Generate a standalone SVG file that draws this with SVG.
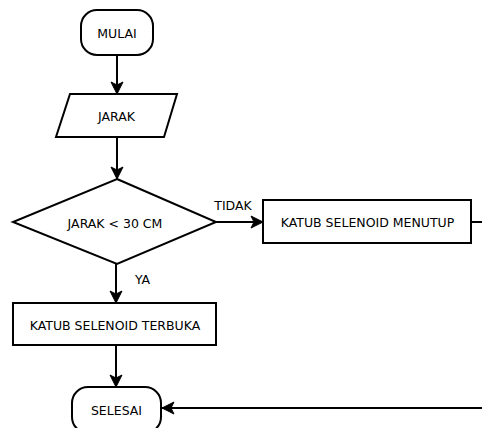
<svg xmlns="http://www.w3.org/2000/svg" width="482" height="428" viewBox="0 0 482 428">
<defs>
<marker id="arr" markerUnits="userSpaceOnUse" markerWidth="14" markerHeight="14" refX="13" refY="7" orient="auto">
<path d="M1,1 L13,7 L1,13 L4,7 z" fill="#000" stroke="#000" stroke-width="1" stroke-linejoin="miter"/>
</marker>
</defs>
<style>
.s{fill:#fff;stroke:#000;stroke-width:2}
.c{fill:none;stroke:#000;stroke-width:2}
text{font-family:"DejaVu Sans",Verdana,sans-serif;font-size:12.5px;fill:#000}
.m{text-anchor:middle}
</style>
<rect width="482" height="428" fill="#fff"/>
<g id="connectors">
<line class="c" x1="117" y1="55" x2="117" y2="94" marker-end="url(#arr)"/>
<line class="c" x1="117" y1="137" x2="117" y2="179" marker-end="url(#arr)"/>
<line class="c" x1="216" y1="222" x2="263" y2="222" marker-end="url(#arr)"/>
<line class="c" x1="116" y1="264" x2="116" y2="303" marker-end="url(#arr)"/>
<line class="c" x1="116" y1="345" x2="116" y2="387" marker-end="url(#arr)"/>
<line class="c" x1="471" y1="222" x2="483" y2="222"/>
<line class="c" x1="483" y1="408" x2="162" y2="408" marker-end="url(#arr)"/>
<text x="233" y="210" class="m">TIDAK</text>
<text x="142.5" y="283.5" class="m">YA</text>
</g>
<g id="mulai">
<rect class="s" x="81" y="10" width="72" height="45" rx="16" ry="16"/>
<text x="117" y="38" class="m">MULAI</text>
</g>
<g id="jarak">
<polygon class="s" points="70,94 177,94 164,137 56,137"/>
<text x="116.5" y="121" class="m">JARAK</text>
</g>
<g id="decision">
<polygon class="s" points="117,179 216,222 117,264 13,222"/>
<text x="115" y="227.5" class="m">JARAK &lt; 30 CM</text>
</g>
<g id="menutup">
<rect class="s" x="263" y="200" width="208" height="43"/>
<text x="367.5" y="227" class="m">KATUB SELENOID MENUTUP</text>
</g>
<g id="terbuka">
<rect class="s" x="13" y="303" width="203" height="42"/>
<text x="115" y="330" class="m">KATUB SELENOID TERBUKA</text>
</g>
<g id="selesai">
<rect class="s" x="72" y="387" width="89" height="46" rx="16" ry="16"/>
<text x="116.5" y="415" class="m">SELESAI</text>
</g>
</svg>
